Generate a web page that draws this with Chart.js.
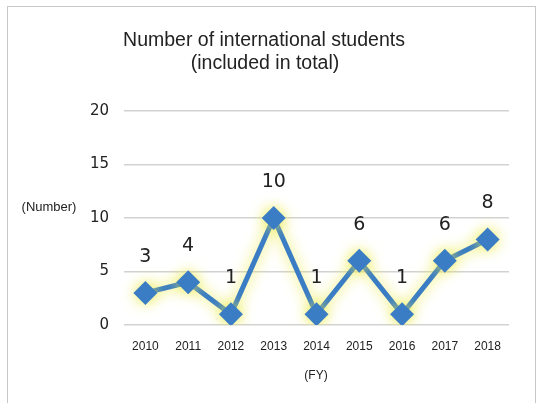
<!DOCTYPE html>
<html>
<head>
<meta charset="utf-8">
<script src="https://cdn.jsdelivr.net/npm/chart.js@4"></script>
<style>
  html, body { margin: 0; padding: 0; background: #fff; }
  #wrap { position: relative; width: 542px; height: 403px; }
  #frame { position: absolute; left: 7px; top: 6px; width: 529px; height: 410px; border: 1.5px solid #c8c8c8; box-sizing: border-box; }
  canvas { position: absolute; left: 0; top: 0; }
</style>
</head>
<body>
<div id="wrap">
  <div id="frame"></div>
  <canvas id="c" width="542" height="403"></canvas>
</div>
<script>
// data
var years = ['2010', '2011', '2012', '2013', '2014', '2015', '2016', '2017', '2018'];
var students = [3, 4, 1, 10, 1, 6, 1, 6, 8];
var titleLines = ['Number of international students', '(included in total)'];

var glow = {
  id: 'glow',
  beforeDatasetDraw: function (chart) {
    var ctx = chart.ctx;
    ctx.save();
    ctx.shadowColor = 'rgba(235,235,70,0.95)';
    ctx.shadowBlur = 14;
  },
  afterDatasetDraw: function (chart) {
    chart.ctx.restore();
  }
};

var extras = {
  id: 'extras',
  afterDraw: function (chart) {
    var ctx = chart.ctx;
    ctx.save();
    ctx.fillStyle = '#222';
    ctx.textAlign = 'center';
    ctx.textBaseline = 'middle';
    ctx.font = '19.5px "Liberation Sans", Arial, sans-serif';
    ctx.fillText(titleLines[0], 264, 41);
    ctx.fillText(titleLines[1], 265, 64);

    ctx.font = '13px "Liberation Sans", Arial, sans-serif';
    ctx.fillText('(Number)', 49, 207);
    ctx.font = '12px "Liberation Sans", Arial, sans-serif';
    ctx.fillText('(FY)', 316, 376);

    // value labels above each point
    ctx.font = '19px "DejaVu Sans", sans-serif';
    var meta = chart.getDatasetMeta(0);
    meta.data.forEach(function (pt, i) {
      ctx.fillText(String(students[i]), pt.x, pt.y - 36);
    });
    ctx.restore();
  }
};

new Chart(document.getElementById('c'), {
  type: 'line',
  data: {
    labels: years,
    datasets: [{
      data: students,
      borderColor: '#3b7dc4',
      backgroundColor: '#3b7dc4',
      borderWidth: 5,
      pointStyle: 'rectRot',
      pointRadius: 12,
      pointHoverRadius: 12,
      pointBorderWidth: 0,
      tension: 0
    }]
  },
  options: {
    responsive: false,
    animation: false,
    layout: { padding: { top: 111, left: 0, right: 33, bottom: 0 } },
    plugins: {
      legend: { display: false },
      tooltip: { enabled: false }
    },
    scales: {
      x: {
        offset: true,
        grid: { display: false, drawTicks: false },
        border: { display: false },
        ticks: { color: '#222', padding: 14, font: { family: '"Liberation Sans", Arial, sans-serif', size: 12 } },
        afterFit: function (s) { s.height = 78; }
      },
      y: {
        min: 0,
        max: 20,
        ticks: { stepSize: 5, color: '#222', padding: 15, font: { family: '"DejaVu Sans", sans-serif', size: 15 } },
        grid: { color: '#d2d2d2', lineWidth: 1.5, drawTicks: false },
        border: { display: false },
        afterFit: function (s) { s.width = 124; }
      }
    }
  },
  plugins: [glow, extras]
});
</script>
</body>
</html>
